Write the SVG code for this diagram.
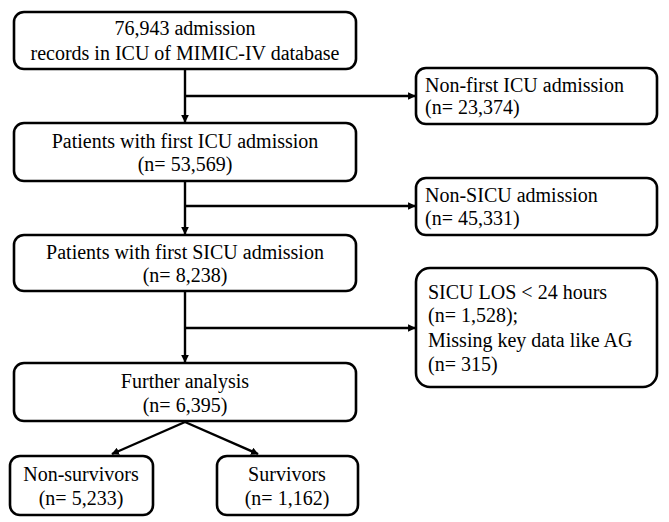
<svg xmlns="http://www.w3.org/2000/svg" width="669" height="522" viewBox="0 0 669 522">
<defs>
<marker id="ah" viewBox="0 0 10 10" refX="9" refY="5" markerWidth="3.2" markerHeight="3.2" orient="auto" markerUnits="strokeWidth">
<path d="M0,0 L10,5 L0,10 Z" fill="#000"/>
</marker>
</defs>
<style>
.box{fill:#fff;stroke:#000;stroke-width:2.6}
.t{font-family:"Liberation Serif","Times New Roman",serif;font-size:20px;fill:#000}
.c{text-anchor:middle}
.ln{fill:none;stroke:#000;stroke-width:2.4}
</style>
<rect width="669" height="522" fill="#fff"/>
<g id="connectors">
<line class="ln" x1="185" y1="69" x2="185" y2="122" marker-end="url(#ah)"/>
<line class="ln" x1="185" y1="96" x2="415" y2="96" marker-end="url(#ah)"/>
<line class="ln" x1="185" y1="181" x2="185" y2="234" marker-end="url(#ah)"/>
<line class="ln" x1="185" y1="206" x2="415" y2="206" marker-end="url(#ah)"/>
<line class="ln" x1="185" y1="291" x2="185" y2="362" marker-end="url(#ah)"/>
<line class="ln" x1="185" y1="328" x2="415" y2="328" marker-end="url(#ah)"/>
<line class="ln" x1="185" y1="422" x2="112" y2="454" marker-end="url(#ah)"/>
<line class="ln" x1="185" y1="422" x2="258" y2="454" marker-end="url(#ah)"/>
</g>
<g id="n1">
<rect class="box" x="14" y="12" width="342" height="57" rx="10"/>
<text class="t c" x="185" y="35">76,943 admission</text>
<text class="t c" x="185" y="60">records in ICU of MIMIC-IV database</text>
</g>
<g id="n2">
<rect class="box" x="14" y="123" width="342" height="58" rx="10"/>
<text class="t c" x="185" y="148">Patients with first ICU admission</text>
<text class="t c" x="185" y="171">(n= 53,569)</text>
</g>
<g id="n3">
<rect class="box" x="14" y="235" width="342" height="56" rx="10"/>
<text class="t c" x="185" y="259">Patients with first SICU admission</text>
<text class="t c" x="185" y="282">(n= 8,238)</text>
</g>
<g id="n4">
<rect class="box" x="14" y="363" width="342" height="58" rx="10"/>
<text class="t c" x="185" y="388">Further analysis</text>
<text class="t c" x="185" y="412">(n= 6,395)</text>
</g>
<g id="n5">
<rect class="box" x="10" y="456" width="143" height="59" rx="10"/>
<text class="t c" x="81" y="481">Non-survivors</text>
<text class="t c" x="81" y="505">(n= 5,233)</text>
</g>
<g id="n6">
<rect class="box" x="217" y="456" width="141" height="59" rx="10"/>
<text class="t c" x="287" y="481">Survivors</text>
<text class="t c" x="287" y="505">(n= 1,162)</text>
</g>
<g id="r1">
<rect class="box" x="416" y="68" width="241" height="56" rx="10"/>
<text class="t" x="425" y="92">Non-first ICU admission</text>
<text class="t" x="425" y="114">(n= 23,374)</text>
</g>
<g id="r2">
<rect class="box" x="416" y="178" width="241" height="57" rx="10"/>
<text class="t" x="425" y="202">Non-SICU admission</text>
<text class="t" x="425" y="225">(n= 45,331)</text>
</g>
<g id="r3">
<rect class="box" x="416" y="268" width="241" height="119" rx="14"/>
<text class="t" x="428" y="299">SICU LOS &lt; 24 hours</text>
<text class="t" x="428" y="322">(n= 1,528);</text>
<text class="t" x="428" y="347">Missing key data like AG</text>
<text class="t" x="428" y="371">(n= 315)</text>
</g>
</svg>
